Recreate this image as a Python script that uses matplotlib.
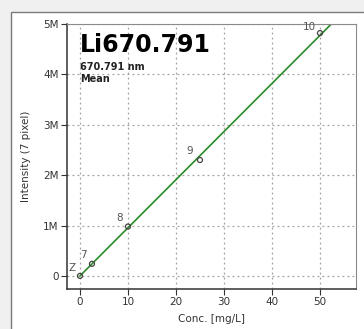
import matplotlib
matplotlib.use("Agg")
import matplotlib.pyplot as plt
from matplotlib.patches import Rectangle
from matplotlib.ticker import FuncFormatter

# calibration standards
std_labels = ["Z", "7", "8", "9", "10"]
conc = [0, 2.5, 10, 25, 50]                      # mg/L
intensity = [0.0, 0.24e6, 0.98e6, 2.30e6, 4.82e6]
label_offsets = [(-8, 8), (-9, 9), (-8, 9), (-10, 9), (-11, 6)]

# fitted calibration line
fit_slope = 0.0955e6
fit_intercept = 0.0
fit_x = [0, 60]

title = "Li670.791"
wavelength = "670.791 nm"
mode = "Mean"

fig = plt.figure(figsize=(3.64, 3.29), dpi=100, facecolor="#f0f0f0")
fig.patches.append(Rectangle((11 / 364, -0.01), 1.0, 1 - 12 / 329 + 0.01,
                             transform=fig.transFigure, facecolor="white",
                             edgecolor="#7a7a7a", lw=1.0, zorder=-5))

ax = fig.add_axes([67 / 364, 1 - 289 / 329, (356 - 67) / 364, (289 - 24) / 329])
ax.set_zorder(2)
ax.set_facecolor("white")

ax.plot(fit_x, [fit_intercept + fit_slope * x for x in fit_x],
        color="#2a8a2a", lw=1.2, zorder=2)
ax.scatter(conc, intensity, s=13, facecolors="none", edgecolors="#444444",
           linewidths=0.9, zorder=3)
for lab, x, y, off in zip(std_labels, conc, intensity, label_offsets):
    ax.annotate(lab, (x, y), xytext=off, textcoords="offset pixels",
                ha="center", va="center", fontsize=7.5, color="#555555")

ax.set_xlim(-2.7, 57.5)
ax.set_ylim(-0.26e6, 5.0e6)
ax.set_xticks([0, 10, 20, 30, 40, 50])
ax.set_yticks([0, 1e6, 2e6, 3e6, 4e6, 5e6])
ax.yaxis.set_major_formatter(FuncFormatter(lambda v, p: "0" if v == 0 else f"{v / 1e6:.0f}M"))
ax.tick_params(labelsize=7.5, colors="#333333", length=4, width=0.8, pad=2)
ax.grid(True, color="#a0a0a0", lw=0.9, linestyle=(0, (1.5, 2.5)))

for side in ["top", "right"]:
    ax.spines[side].set_color("#8a8a8a")
for side in ["left", "bottom"]:
    ax.spines[side].set_color("#333333")
    ax.spines[side].set_linewidth(1.1)

ax.set_xlabel("Conc. [mg/L]", fontsize=7.5, color="#333333", labelpad=5)
ax.set_ylabel("Intensity (7 pixel)", fontsize=7.5, color="#333333", labelpad=9)

ax.text(0.045, 0.965, title, transform=ax.transAxes, fontsize=17, fontweight="bold",
        va="top", ha="left", color="black")
ax.text(0.045, 0.855, wavelength, transform=ax.transAxes, fontsize=7, fontweight="bold",
        va="top", ha="left", color="#222222")
ax.text(0.045, 0.81, mode, transform=ax.transAxes, fontsize=7, fontweight="bold",
        va="top", ha="left", color="#222222")

fig.savefig("out.png", dpi=100, facecolor=fig.get_facecolor())
